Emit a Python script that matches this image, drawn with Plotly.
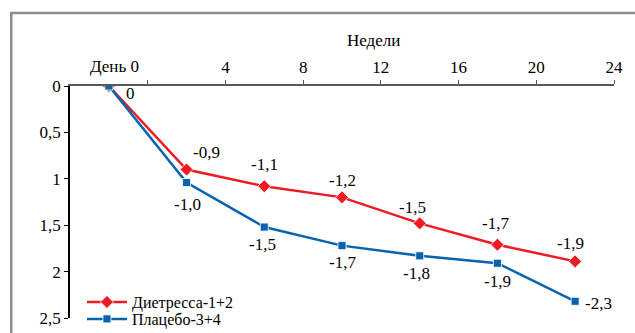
import plotly.graph_objects as go

# ---- data ----
visits = ["V0", "V1", "V2", "V3", "V4", "V5", "V6"]
dietressa = [0, 0.90, 1.08, 1.20, 1.48, 1.71, 1.89]
placebo = [0, 1.04, 1.52, 1.72, 1.83, 1.91, 2.32]
dietressa_labels = ["", "-0,9", "-1,1", "-1,2", "-1,5", "-1,7", "-1,9"]
placebo_labels = ["0", "-1,0", "-1,5", "-1,7", "-1,8", "-1,9", "-2,3"]
week_ticks = [0, 4, 8, 12, 16, 20, 24]
week_ticktext = ["", "4", "8", "12", "16", "20", "24"]
y_ticks = [0, 0.5, 1, 1.5, 2, 2.5]
y_ticktext = ["0", "0,5", "1", "1,5", "2", "2,5"]

# ---- styles ----
FONT = "Liberation Serif, Times New Roman, serif"
RED = "#ED1C24"
BLUE = "#0563B0"
red_shift = [(0, 0), (20, 17), (0, 22), (0, 17), (-7, 16), (-2, 21), (-5, 18)]
blue_shift = [(22, -7), (1, -22), (-2, -17), (0, -17), (-3, -18), (0, -18), (23, -2)]

fig = go.Figure()
fig.add_trace(go.Scatter(
    x=visits, y=dietressa, name="Диетресса-1+2", mode="lines+markers",
    line=dict(color=RED, width=2.5), legend="legend",
    marker=dict(symbol="diamond", size=10, color=RED, line=dict(color="white", width=0.8)),
))
fig.add_trace(go.Scatter(
    x=visits, y=placebo, name="Плацебо-3+4", mode="lines+markers",
    line=dict(color=BLUE, width=2.5), legend="legend2",
    marker=dict(symbol="square", size=8, color=BLUE, line=dict(color="white", width=0.8)),
))
# invisible trace to carry the top week axis
fig.add_trace(go.Scatter(x=[week_ticks[0], week_ticks[-1]], y=[0, 0], xaxis="x2",
                         mode="markers", marker=dict(opacity=0), showlegend=False,
                         hoverinfo="skip"))

ann = []
for v, val, lab, (dx, dy) in zip(visits, dietressa, dietressa_labels, red_shift):
    if lab:
        ann.append(dict(x=v, y=val, xref="x", yref="y", text=lab, showarrow=False,
                        xshift=dx, yshift=dy, font=dict(family=FONT, size=17, color="black")))
for v, val, lab, (dx, dy) in zip(visits, placebo, placebo_labels, blue_shift):
    if lab:
        ann.append(dict(x=v, y=val, xref="x", yref="y", text=lab, showarrow=False,
                        xshift=dx, yshift=dy, font=dict(family=FONT, size=17, color="black")))
ann.append(dict(x=-1.7, y=1.082, xref="x2", yref="paper", text="День 0", showarrow=False,
                xanchor="center", yanchor="middle",
                font=dict(family=FONT, size=17, color="black")))
ann.append(dict(x=11.6, y=1.198, xref="x2", yref="paper", text="Недели", showarrow=False,
                xanchor="center", yanchor="middle",
                font=dict(family=FONT, size=17, color="black")))

legend_style = dict(xanchor="left", yanchor="top", bgcolor="rgba(0,0,0,0)",
                    font=dict(family=FONT, size=16, color="black"),
                    tracegroupgap=0, itemwidth=40)

fig.update_layout(
    width=635, height=333,
    margin=dict(l=70, r=21, t=86, b=15, autoexpand=False),
    paper_bgcolor="white", plot_bgcolor="white",
    font=dict(family=FONT, size=17, color="black"),
    showlegend=True,
    legend=dict(x=0.022, y=0.142, **legend_style),
    legend2=dict(x=0.022, y=0.069, **legend_style),
    xaxis=dict(type="category", range=[-0.5, 6.5], visible=False),
    xaxis2=dict(overlaying="x", side="top", anchor="y", range=[-4, 24],
                tickvals=week_ticks, ticktext=week_ticktext,
                showline=True, linecolor="#595959", linewidth=2,
                ticks="outside", ticklen=4, tickcolor="#595959", tickwidth=1,
                showgrid=False, zeroline=False, automargin=False,
                tickfont=dict(family=FONT, size=17, color="black")),
    yaxis=dict(range=[2.5, 0], tickvals=y_ticks, ticktext=y_ticktext,
               showline=True, linecolor="black", linewidth=1.5,
               ticks="outside", ticklen=4, tickcolor="black",
               showgrid=False, zeroline=False, automargin=False,
               tickfont=dict(family=FONT, size=17, color="black")),
    annotations=ann,
    shapes=[dict(type="rect", xref="paper", yref="paper",
                 x0=-0.108, x1=1.3, y0=-0.3, y1=1.315,
                 line=dict(color="#8C8C8C", width=2.5), fillcolor="rgba(0,0,0,0)",
                 layer="below")],
)

fig.write_html("out.html", post_script="document.body.style.margin='0px';",
               config={"displayModeBar": False})
